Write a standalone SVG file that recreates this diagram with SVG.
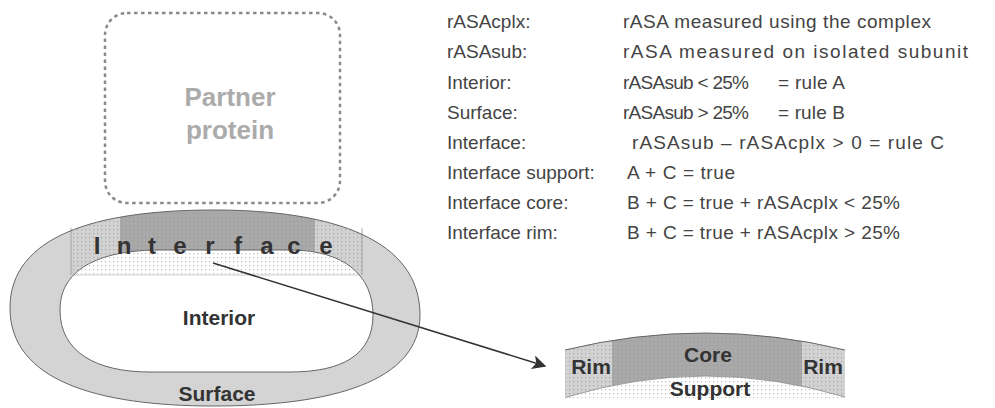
<svg xmlns="http://www.w3.org/2000/svg" width="995" height="408" viewBox="0 0 995 408">
<style>
.lbl{font-family:"Liberation Sans",Arial,sans-serif;font-size:19px;fill:#444}
.bold{font-family:"Liberation Sans",Arial,sans-serif;font-weight:bold;fill:#333;text-anchor:middle}
.partner{font-family:"Liberation Sans",Arial,sans-serif;font-weight:bold;fill:#ababab;font-size:26px;text-anchor:middle}
.edge{stroke:#666;stroke-width:1;fill:none}
</style>
<defs>
<pattern id="dotsG" width="4" height="4" patternUnits="userSpaceOnUse"><rect width="4" height="4" fill="#d2d2d2"/><rect x="1" y="1" width="1.2" height="1.2" fill="#a8a8a8"/></pattern>
<pattern id="dotsC" width="4" height="4" patternUnits="userSpaceOnUse"><rect width="4" height="4" fill="#a9a9a9"/><rect x="1" y="1" width="1.2" height="1.2" fill="#999"/></pattern>
<pattern id="dotsW" width="4" height="4" patternUnits="userSpaceOnUse"><rect width="4" height="4" fill="#fff"/><rect x="1" y="1" width="1.2" height="1.2" fill="#bdbdbd"/></pattern>
<path id="outer" d="M10,308 C10,236 96,210 214,210 C334,210 420,240 420,315 C420,382 330,406 214,406 C96,406 10,380 10,308 Z"/>
<path id="inner" d="M60,310 C60,266 105,250 160,250 L290,250 C345,250 373,276 373,315 C373,355 342,372 290,372 L150,372 C96,372 60,352 60,310 Z"/>
<clipPath id="clipOuter"><use href="#outer"/></clipPath>
<clipPath id="clipInner"><use href="#inner"/></clipPath>
<path id="small" d="M565,350 Q705,316 845,350 L845,398 L565,398 Z"/>
<clipPath id="clipSmall"><use href="#small"/></clipPath>
<marker id="arrow" viewBox="0 0 10 10" refX="9" refY="5" markerWidth="17" markerHeight="14" markerUnits="userSpaceOnUse" orient="auto"><path d="M0,0 L10,5 L0,10 L2.5,5 Z" fill="#333"/></marker>
</defs>

<g id="partner">
<rect x="105" y="13" width="235" height="190" rx="22" fill="none" stroke="#8a8a8a" stroke-width="2.5" stroke-dasharray="3.5 3.5"/>
<text class="partner" x="230" y="106">Partner</text>
<text class="partner" x="230" y="139">protein</text>
</g>

<g id="protein">
<use href="#outer" fill="#d4d4d4"/>
<g clip-path="url(#clipOuter)">
<rect x="71" y="200" width="49" height="75" fill="url(#dotsG)"/>
<rect x="315" y="200" width="47" height="75" fill="url(#dotsG)"/>
<rect x="120" y="200" width="195" height="75" fill="url(#dotsC)"/>
</g>
<use href="#inner" fill="#fff"/>
<g clip-path="url(#clipInner)">
<rect x="71" y="240" width="291" height="35" fill="url(#dotsW)"/>
<line x1="71" y1="275" x2="362" y2="275" stroke="#ccc" stroke-width="1"/>
</g>
<line x1="71" y1="228" x2="71" y2="275" stroke="#999" stroke-width="0.8"/>
<line x1="362" y1="228" x2="362" y2="275" stroke="#999" stroke-width="0.8"/>
<use href="#inner" class="edge"/>
<use href="#outer" class="edge"/>
<text class="bold" font-size="24" y="254"><tspan x="97">I</tspan><tspan x="124">n</tspan><tspan x="152">t</tspan><tspan x="180">e</tspan><tspan x="210">r</tspan><tspan x="238">f</tspan><tspan x="267">a</tspan><tspan x="294">c</tspan><tspan x="326">e</tspan></text>
<text class="bold" font-size="21" x="219" y="325">Interior</text>
<text class="bold" font-size="21" x="217" y="401">Surface</text>
</g>

<g id="detail">
<use href="#small" fill="#d2d2d2"/>
<g clip-path="url(#clipSmall)">
<rect x="565" y="320" width="47" height="80" fill="url(#dotsG)"/>
<rect x="802" y="320" width="43" height="80" fill="url(#dotsG)"/>
<rect x="612" y="320" width="190" height="80" fill="url(#dotsC)"/>
<path d="M565,399 L567,397 Q705,355 845,397 L845,399 Z" fill="url(#dotsW)" stroke="#888" stroke-width="0.8"/>
</g>
<path d="M565,350 Q705,316 845,350" class="edge"/>
<text class="bold" font-size="21" x="591" y="374">Rim</text>
<text class="bold" font-size="21" x="708" y="362">Core</text>
<text class="bold" font-size="21" x="823" y="374">Rim</text>
<text class="bold" font-size="21" x="710" y="396">Support</text>
</g>

<g id="connectors">
<line x1="213" y1="263" x2="545" y2="366" stroke="#333" stroke-width="1.5" marker-end="url(#arrow)"/>
</g>

<g id="legend">
<text class="lbl" x="447" y="28">rASAcplx:</text>
<text class="lbl" x="623" y="28" textLength="308" lengthAdjust="spacing">rASA measured using the complex</text>
<text class="lbl" x="447" y="58">rASAsub:</text>
<text class="lbl" x="623" y="58" textLength="345" lengthAdjust="spacing">rASA measured on isolated subunit</text>
<text class="lbl" x="447" y="89">Interior:</text>
<text class="lbl" x="623" y="89" textLength="126" lengthAdjust="spacing">rASAsub &lt; 25%</text>
<text class="lbl" x="778" y="89" textLength="67" lengthAdjust="spacing">= rule A</text>
<text class="lbl" x="447" y="119">Surface:</text>
<text class="lbl" x="623" y="119" textLength="126" lengthAdjust="spacing">rASAsub &gt; 25%</text>
<text class="lbl" x="778" y="119" textLength="67" lengthAdjust="spacing">= rule B</text>
<text class="lbl" x="447" y="149">Interface:</text>
<text class="lbl" x="632" y="149" textLength="312" lengthAdjust="spacing">rASAsub – rASAcplx &gt; 0 = rule C</text>
<text class="lbl" x="447" y="179">Interface support:</text>
<text class="lbl" x="627" y="179" textLength="108" lengthAdjust="spacing">A + C = true</text>
<text class="lbl" x="447" y="209">Interface core:</text>
<text class="lbl" x="627" y="209" textLength="273" lengthAdjust="spacing">B + C = true + rASAcplx &lt; 25%</text>
<text class="lbl" x="447" y="239">Interface rim:</text>
<text class="lbl" x="627" y="239" textLength="273" lengthAdjust="spacing">B + C = true + rASAcplx &gt; 25%</text>
</g>
</svg>
